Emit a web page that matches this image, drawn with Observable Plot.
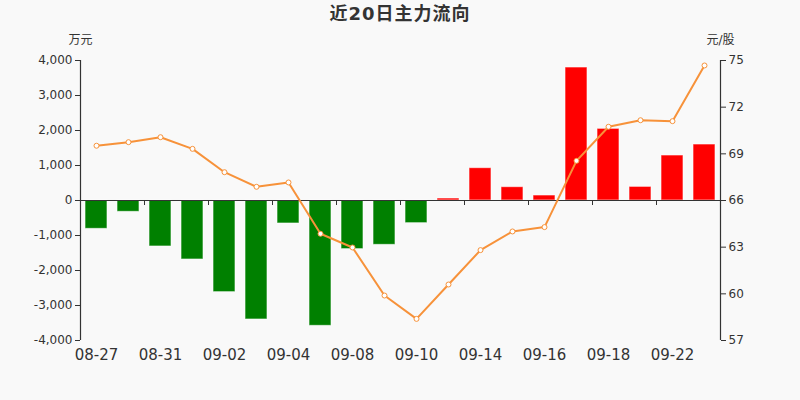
<!DOCTYPE html>
<html>
<head>
<meta charset="utf-8">
<script src="https://cdn.jsdelivr.net/npm/d3@7"></script>
<script src="https://cdn.jsdelivr.net/npm/@observablehq/plot@0.6"></script>
<style>
  html, body { margin: 0; padding: 0; background: #f9f9f9; }
  body { width: 800px; height: 400px; overflow: hidden; font-family: "DejaVu Sans", "Noto Sans CJK SC", sans-serif; }
  #title { height: 30px; line-height: 28px; text-align: center; font-size: 18px; font-weight: bold; color: #333; letter-spacing: 1px; }
  svg { display: block; }
</style>
</head>
<body>
<div id="title">近20日主力流向</div>
<div id="chart"></div>
<script>
const dates = ["08-27","08-28","08-31","09-01","09-02","09-03","09-04","09-07","09-08","09-09",
               "09-10","09-11","09-14","09-15","09-16","09-17","09-18","09-21","09-22","09-23"];
const flows = [-810, -324, -1314, -1686, -2619, -3400, -657, -3581, -1390, -1267,
               -648, 57, 924, 381, 143, 3800, 2048, 390, 1286, 1600];
const prices = [69.52, 69.75, 70.07, 69.32, 67.82, 66.88, 67.16, 63.86, 62.98, 59.89,
                58.39, 60.60, 62.81, 64.01, 64.29, 68.55, 70.74, 71.16, 71.10, 74.68];
const leftTicks = [-4000, -3000, -2000, -1000, 0, 1000, 2000, 3000, 4000];
const rightTicks = [57, 60, 63, 66, 69, 72, 75];
const labelDates = dates.filter((d, i) => i % 2 === 0);
const boundaryDates = dates.filter((d, i) => i % 2 === 1);

// map price axis (57..75) onto flow axis (-4000..4000)
const pMid = 66, pHalf = 9, fHalf = 4000;
const toY = p => (p - pMid) / pHalf * fHalf;
const fromY = v => Math.round(pMid + v / fHalf * pHalf);

const data = dates.map((d, i) => ({date: d, flow: flows[i], price: prices[i]}));
const axisColor = "#333";

const chart = Plot.plot({
  width: 800,
  height: 370,
  marginTop: 30,
  marginBottom: 60,
  marginLeft: 80,
  marginRight: 80,
  style: {background: "#f9f9f9", fontFamily: "DejaVu Sans, Noto Sans CJK SC, sans-serif", color: axisColor},
  x: {domain: dates, paddingInner: 0.3, paddingOuter: 0.15},
  y: {domain: [-4000, 4000]},
  marks: [
    Plot.barY(data, {x: "date", y: "flow", fill: d => d.flow >= 0 ? "#ff0000" : "#008000",
      stroke: "white", strokeOpacity: 0.6, strokeWidth: 1}),
    Plot.ruleY([0], {stroke: axisColor, strokeWidth: 1.2}),
    Plot.ruleX(boundaryDates, {x: d => d, y1: 0, y2: -143, dx: 16, stroke: axisColor}),
    Plot.ruleX([dates[0]], {dx: -16, stroke: axisColor, strokeWidth: 1.2}),
    Plot.ruleX([dates[dates.length - 1]], {dx: 16, stroke: axisColor, strokeWidth: 1.2}),
    Plot.line(data, {x: "date", y: d => toY(d.price), stroke: "#f7923a", strokeWidth: 2}),
    Plot.dot(data, {x: "date", y: d => toY(d.price), r: 2.5, fill: "white", stroke: "#f7923a", strokeWidth: 1}),
    Plot.axisY({anchor: "left", ticks: leftTicks, tickFormat: d => d.toLocaleString("en-US"),
      tickSize: 5, tickPadding: 3, fontSize: 12, label: null, stroke: axisColor, fill: axisColor}),
    Plot.axisY({anchor: "right", ticks: rightTicks.map(toY), tickFormat: fromY,
      tickSize: 5, tickPadding: 3, fontSize: 12, label: null, stroke: axisColor, fill: axisColor}),
    Plot.axisX({anchor: "bottom", ticks: labelDates, tickSize: 0, tickPadding: 9, fontSize: 15,
      label: null, fill: axisColor}),
    Plot.text(["万元"], {frameAnchor: "top-left", dy: -20, textAnchor: "middle", lineAnchor: "middle",
      fontSize: 12, fill: axisColor}),
    Plot.text(["元/股"], {frameAnchor: "top-right", dy: -20, textAnchor: "middle", lineAnchor: "middle",
      fontSize: 12, fill: axisColor})
  ]
});
document.getElementById("chart").appendChild(chart);
</script>
</body>
</html>
